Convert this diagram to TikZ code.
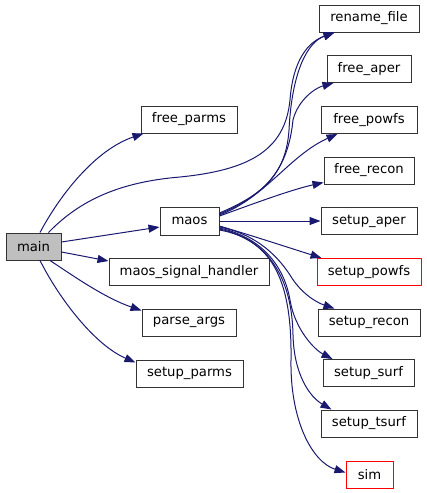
\documentclass[tikz,border=0pt]{standalone}
\usepackage{fontspec}
\setmainfont{DejaVu Sans}
\usetikzlibrary{arrows.meta}
\definecolor{edgeblue}{HTML}{191970}
\definecolor{mainfill}{HTML}{BFBFBF}
\begin{document}
\begin{tikzpicture}[x=1pt,y=-1pt,
  box/.style={draw=black!80,line width=1pt,fill=white,minimum height=27pt,inner sep=0pt,
    font=\fontsize{13.2}{15}\selectfont},
  redbox/.style={box,draw=red},
  call/.style={draw=edgeblue,line width=1pt,-{Triangle[length=11pt,width=8pt]}}]
\useasboundingbox (0,0) rectangle (427,493);
% left column
\node[box,fill=mainfill,minimum width=55pt] (main) at (33.5,246.5) {main};
\node[box,minimum width=96pt] (free_parms) at (189,119.5) {free\_parms};
\node[box,minimum width=59pt,minimum height=28pt] (maos) at (189.5,221) {maos};
\node[box,minimum width=160pt] (handler) at (189,272) {maos\_signal\_handler};
\node[box,minimum width=94pt] (parse_args) at (189,322.5) {parse\_args};
\node[box,minimum width=107pt] (setup_parms) at (189.5,373.5) {setup\_parms};
% right column
\node[box,minimum width=100pt] (rename) at (369,18.5) {rename\_file};
\node[box,minimum width=84pt] (free_aper) at (369,69) {free\_aper};
\node[box,minimum width=96pt] (free_powfs) at (369,120) {free\_powfs};
\node[box,minimum width=90pt] (free_recon) at (369,170.5) {free\_recon};
\node[box,minimum width=96pt] (setup_aper) at (369,221) {setup\_aper};
\node[redbox,minimum width=104pt] (setup_powfs) at (369,272) {setup\_powfs};
\node[box,minimum width=102pt] (setup_recon) at (369,322.5) {setup\_recon};
\node[box,minimum width=91pt] (setup_surf) at (368.5,373) {setup\_surf};
\node[box,minimum width=96pt] (setup_tsurf) at (369,423.5) {setup\_tsurf};
\node[redbox,minimum width=47pt] (sim) at (369.5,474.5) {sim};
% main calls
\draw[call] ([xshift=6.5pt]main.north) .. controls (60,195) and (95,150) .. ([xshift=3pt]free_parms.south west);
\draw[call] ([xshift=15pt]main.north) .. controls (80,200) and (120,182) .. (180,177)
  .. controls (250,170) and (285,150) .. (290,100) .. controls (293,60) and (308,42) .. ([xshift=16pt]rename.south west);
\draw[call] ([yshift=4.5pt]main.east) -- ([yshift=-6pt]maos.west);
\draw[call] ([yshift=-5.5pt]main.east) -- ([yshift=-3pt]handler.north west);
\draw[call] ([xshift=16.5pt]main.south) .. controls (75,277) and (105,298) .. ([yshift=-2pt]parse_args.north west);
\draw[call] ([xshift=6.5pt]main.south) .. controls (60,300) and (95,345) .. ([yshift=-3pt]setup_parms.north west);
% maos calls
\draw[call] ([yshift=8pt]maos.east) .. controls (262,195) and (286,175) .. (289,130)
  .. controls (292,70) and (308,42) .. ([xshift=16pt]rename.south west);
\draw[call] ([yshift=7pt]maos.east) .. controls (265,195) and (288,170) .. (293,120)
  .. controls (298,100) and (315,88) .. ([xshift=7pt]free_aper.south west);
\draw[call] ([yshift=6pt]maos.east) .. controls (265,198) and (290,155) .. ([xshift=17pt]free_powfs.south west);
\draw[call] ([yshift=5pt]maos.east) .. controls (250,205) and (290,190) .. ([yshift=2pt]free_recon.south west);
\draw[call] (maos.east) -- (setup_aper.west);
\draw[call] ([yshift=-5pt]maos.east) .. controls (250,235) and (290,248) .. ([xshift=5pt]setup_powfs.north west);
\draw[call] ([yshift=-6pt]maos.east) .. controls (260,235) and (280,260) .. (290,275)
  .. controls (300,292) and (315,302) .. ([xshift=17pt]setup_recon.north west);
\draw[call] ([yshift=-7pt]maos.east) .. controls (265,238) and (285,270) .. (290,300)
  .. controls (295,330) and (315,350) .. ([xshift=10pt]setup_surf.north west);
\draw[call] ([yshift=-8pt]maos.east) .. controls (270,240) and (292,280) .. (293,335)
  .. controls (294,375) and (310,397) .. ([xshift=11pt]setup_tsurf.north west);
\draw[call] ([yshift=-9pt]maos.east) .. controls (275,240) and (292,285) .. (291,360)
  .. controls (290,420) and (312,462) .. ([yshift=-12pt]sim.north west);
\end{tikzpicture}
\end{document}
